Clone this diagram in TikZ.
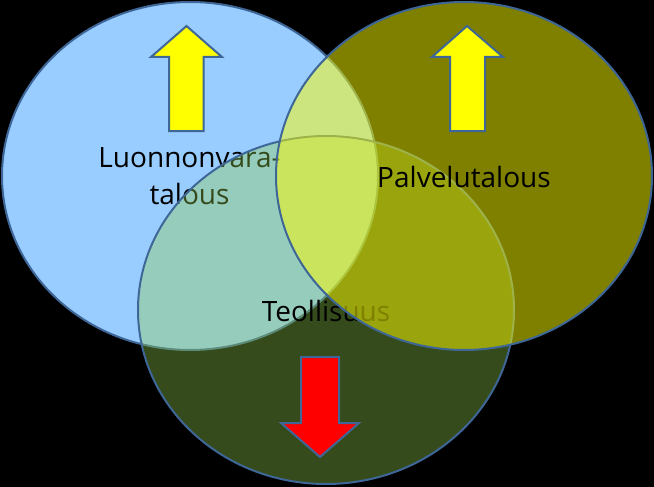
\documentclass[tikz,border=0pt]{standalone}
\usepackage{fontspec}
\setmainfont{Open Sans}
\usetikzlibrary{shapes.geometric}
\definecolor{bluefill}{RGB}{153,204,255}
\definecolor{greenfill}{RGB}{145,205,75}
\definecolor{olivefill}{RGB}{255,255,0}
\definecolor{edge}{RGB}{62,102,150}
\definecolor{arrowyellow}{RGB}{255,255,0}
\definecolor{arrowred}{RGB}{255,0,0}
\tikzset{
  venn/.style={ellipse, draw=edge, line width=2pt, inner sep=0pt,
    minimum width=376pt, minimum height=348pt},
  lbl/.style={anchor=base, inner sep=0pt, font=\fontsize{28}{34}\selectfont, text=black},
  bigarrow/.style={draw=edge, line width=2pt, line join=miter},
}
\begin{document}
\begin{tikzpicture}[x=1pt,y=-1pt]
\fill[black] (0,0) rectangle (654,487);
\useasboundingbox (0,0) rectangle (654,487);
% blue circle
\node[venn, fill=bluefill] (luo) at (190,176) {};
\draw[bigarrow, fill=arrowyellow] (169,131) -- (169,57) -- (151,57) -- (186.5,26) -- (222,57) -- (203.5,57) -- (203.5,131) -- cycle;
\node[lbl] (luo1) at (189.5,167) {Luonnonvara-};
\node[lbl] (luo2) at (189.5,204) {talous};
% green circle
\node[venn, fill=greenfill, fill opacity=0.37] (teo) at (326,310) {};
\draw[bigarrow, fill=arrowred] (301,357) -- (339,357) -- (339,423) -- (359,423) -- (320,457) -- (281,423) -- (301,423) -- cycle;
\node[lbl] (teo1) at (326,321) {Teollisuus};
% olive circle
\node[venn, fill=olivefill, fill opacity=0.5] (pal) at (464,176) {};
\draw[bigarrow, fill=arrowyellow] (450,131) -- (450,57) -- (432,57) -- (467,26) -- (503,57) -- (485,57) -- (485,131) -- cycle;
\node[lbl] (pal1) at (464,187) {Palvelutalous};
\end{tikzpicture}
\end{document}
